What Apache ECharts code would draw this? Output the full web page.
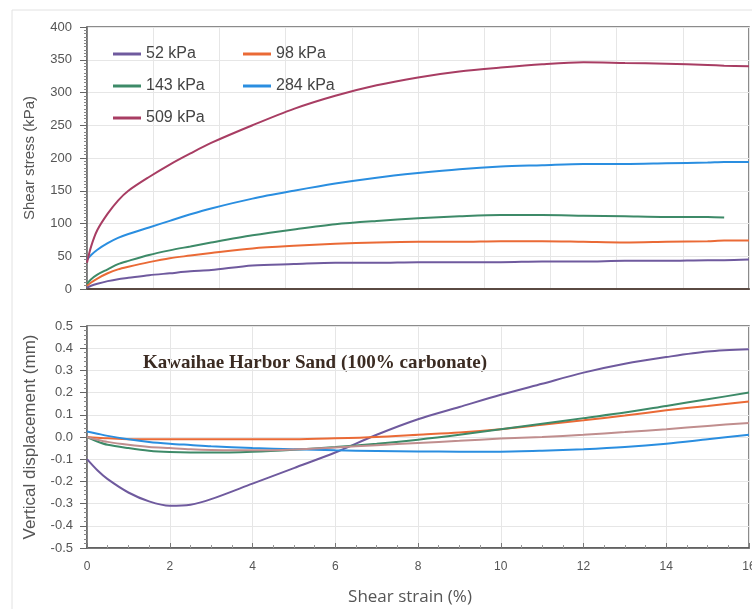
<!DOCTYPE html>
<html><head><meta charset="utf-8">
<script src="https://cdn.jsdelivr.net/npm/echarts@6/dist/echarts.min.js"></script>
<style>html,body{margin:0;padding:0;background:#fff}#c{width:752px;height:609px}</style>
</head><body><div id="c"></div>
<script>
const seriesNames = ['52 kPa','98 kPa','143 kPa','284 kPa','509 kPa'];
const strainTop = [0,0.1,0.25,0.5,0.75,1,1.5,2,2.5,3,4,5,6,7,8,9,10,11,12,13,14,15,15.4,16];
const stress52  = [2,5,8,12,15,17,21,24,27,29,36,38,40,40,41,41,41,42,42,43,43,44,44,45];
const stress98  = [5,10,16,24,30,34,41,47,51,55,62,66,69,71,72,72,73,73,72,71,72,73,74,74];
const stress143 = [8,15,22,30,38,43,52,59,65,71,82,91,99,104,108,111,113,113,112,111,110,110,109,null];
const stress284 = [45,52,60,70,78,84,94,104,114,123,138,150,161,170,177,183,187,189,191,191,192,193,194,194];
const stress509 = [40,65,90,115,135,150,171,190,207,223,250,275,295,311,323,332,338,343,346,345,344,342,341,340];

const strainBot = [0,0.25,0.5,1,1.5,2,2.5,3,4,5,6,7,8,9,10,11,12,13,14,15,16];
const disp52  = [-0.10,-0.15,-0.19,-0.25,-0.29,-0.31,-0.305,-0.28,-0.21,-0.14,-0.07,0.01,0.08,0.135,0.19,0.24,0.29,0.33,0.36,0.385,0.395];
const disp98  = [0,-0.003,-0.006,-0.01,-0.01,-0.01,-0.01,-0.01,-0.01,-0.01,-0.006,0.0,0.01,0.02,0.035,0.055,0.075,0.097,0.12,0.14,0.16];
const disp143 = [0.0,-0.02,-0.035,-0.05,-0.062,-0.068,-0.07,-0.07,-0.066,-0.057,-0.045,-0.03,-0.012,0.01,0.035,0.06,0.085,0.11,0.14,0.17,0.2];
const disp284 = [0.025,0.015,0.005,-0.01,-0.022,-0.03,-0.036,-0.042,-0.05,-0.055,-0.06,-0.063,-0.065,-0.066,-0.066,-0.062,-0.055,-0.045,-0.03,-0.01,0.01];
const disp509 = [0,-0.012,-0.022,-0.035,-0.045,-0.05,-0.055,-0.058,-0.06,-0.056,-0.047,-0.037,-0.027,-0.017,-0.007,0.0,0.01,0.022,0.035,0.05,0.063];

const chartTitle = 'Kawaihae Harbor Sand (100% carbonate)';

const colorsTop = ['#6f5a9e','#ea6a36','#3d8a68','#2a8ee0','#a83d63'];
const colorsBot = ['#6f5a9e','#ea6a36','#3d8a68','#2a8ee0','#c08e8e'];

function pairs(xs, ys){ return xs.map((x,i)=>[x, ys[i]]); }
const topData = [stress52,stress98,stress143,stress284,stress509];
const botData = [disp52,disp98,disp143,disp284,disp509];

const font = 'Liberation Sans, Arial, sans-serif';
const axisLbl = {color:'#555', fontSize:13, fontFamily:font};

const series = [];
seriesNames.forEach((n,i)=>{
  series.push({name:n,type:'line',xAxisIndex:0,yAxisIndex:0,data:pairs(strainTop,topData[i]),
    symbol:'none',smooth:0.3,lineStyle:{width:2,color:colorsTop[i]},itemStyle:{color:colorsTop[i]},connectNulls:false,animation:false});
});
seriesNames.forEach((n,i)=>{
  series.push({name:n,type:'line',xAxisIndex:1,yAxisIndex:1,data:pairs(strainBot,botData[i]),
    symbol:'none',smooth:0.3,lineStyle:{width:2,color:colorsBot[i]},itemStyle:{color:colorsTop[i]},animation:false});
});

const legendCommon = {orient:'vertical',icon:'rect',itemWidth:28,itemHeight:3,itemGap:16,padding:0,
  textStyle:{color:'#444',fontSize:16,fontFamily:font},selectedMode:false};

const option = {
  animation:false,
  backgroundColor:'#fff',
  graphic:[
    {type:'rect',shape:{x:12,y:10,width:760,height:610},style:{fill:'none',stroke:'#e2e2e2',lineWidth:1},silent:true,z:-1},
    {type:'text',left:143,top:354,style:{text:chartTitle,font:'bold 19px "Liberation Serif", "Times New Roman", serif',fill:'#3b2b22'}}
  ],
  legend:[
    Object.assign({left:113,top:46,data:['52 kPa','143 kPa','509 kPa']},legendCommon),
    Object.assign({left:243,top:46,data:['98 kPa','284 kPa']},legendCommon)
  ],
  grid:[
    {left:87,top:27,width:662,height:262,show:true,borderColor:'#666',borderWidth:1.5,backgroundColor:'#fff',containLabel:false,outerBoundsMode:'none'},
    {left:87,top:326,width:662,height:222,show:true,borderColor:'#666',borderWidth:1.5,backgroundColor:'#fff',containLabel:false,outerBoundsMode:'none'}
  ],
  xAxis:[
    {type:'value',gridIndex:0,min:0,max:16,interval:1.6,
      axisLine:{onZero:false,lineStyle:{color:'#5a4a42',width:2}},axisTick:{show:false},axisLabel:{show:false},
      splitLine:{show:true,lineStyle:{color:'#e6e6e6'}}},
    {type:'value',gridIndex:1,min:0,max:16,interval:2,
      name:'Shear strain (%)',nameLocation:'middle',nameGap:41,
      nameTextStyle:{color:'#555',fontSize:17,fontFamily:'Open Sans, sans-serif',padding:[0,16,0,0]},
      axisLine:{onZero:false,lineStyle:{color:'#555',width:1.5}},
      axisTick:{show:true,inside:true,length:5,lineStyle:{color:'#777'}},
      minorTick:{show:true,splitNumber:4,length:3,lineStyle:{color:'#999'}},
      axisLabel:Object.assign({},axisLbl,{fontSize:12,margin:13,formatter:v=>String(v)}),
      splitLine:{show:true,lineStyle:{color:'#e6e6e6'}}}
  ],
  yAxis:[
    {type:'value',gridIndex:0,min:0,max:400,interval:50,
      name:'Shear stress (kPa)',nameLocation:'middle',nameGap:50,
      nameTextStyle:{color:'#555',fontSize:15,fontFamily:font},
      axisLine:{show:true,onZero:false,lineStyle:{color:'#666',width:1.5}},
      axisTick:{show:true,length:7,lineStyle:{color:'#666'}},
      minorTick:{show:true,splitNumber:10,length:3,lineStyle:{color:'#888'}},
      axisLabel:Object.assign({margin:15},axisLbl),
      splitLine:{show:true,lineStyle:{color:'#e6e6e6'}}},
    {type:'value',gridIndex:1,min:-0.5,max:0.5,interval:0.1,
      name:'Vertical displacement (mm)',nameLocation:'middle',nameGap:48,
      nameTextStyle:{color:'#555',fontSize:17,fontFamily:font},
      axisLine:{show:true,onZero:false,lineStyle:{color:'#666',width:1.5}},
      axisTick:{show:true,length:7,lineStyle:{color:'#666'}},
      minorTick:{show:true,splitNumber:5,length:3,lineStyle:{color:'#888'}},
      axisLabel:Object.assign({margin:14,formatter:v=>v.toFixed(1)},axisLbl),
      splitLine:{show:true,lineStyle:{color:'#e6e6e6'}}}
  ],
  series:series
};
const chart = echarts.init(document.getElementById('c'),null,{renderer:'canvas'});
chart.setOption(option);
</script></body></html>
